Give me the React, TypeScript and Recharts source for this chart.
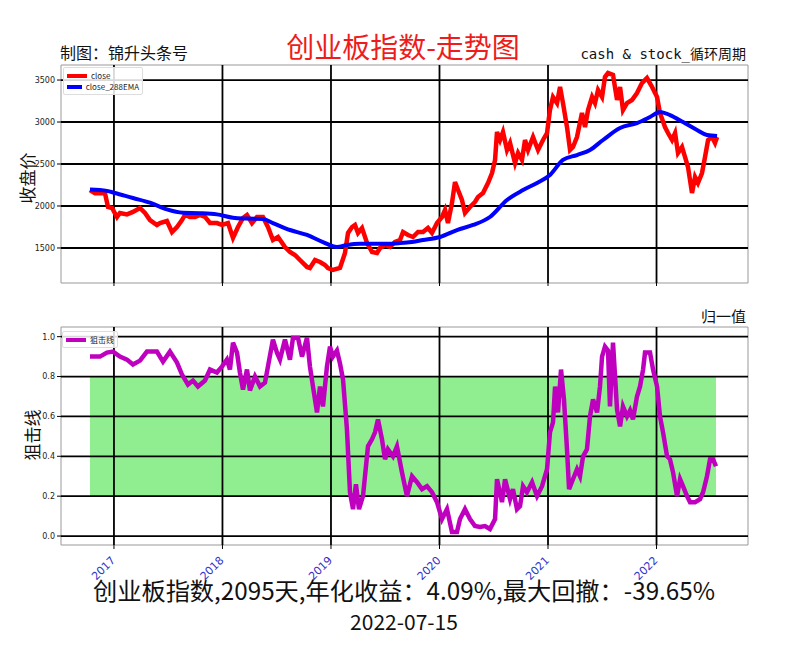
import React from 'react';
import { LineChart, Line, XAxis, YAxis, ReferenceLine, ReferenceArea } from 'recharts';

// ---------- data ----------
const indexName = '创业板指数';
const titleText = '创业板指数-走势图';
const makerText = '制图：锦升头条号';
const brandText = 'cash & stock_循环周期';
const normText = '归一值';
const priceLabel = '收盘价';
const sniperLabel = '狙击线';
const seriesNames = ['close', 'close_288EMA', '狙击线'];
const totalDays = 2095;
const annualReturn = '4.09%';
const maxDrawdown = '-39.65%';
const endDate = '2022-07-15';

const yearTicks = [2017, 2018, 2019, 2020, 2021, 2022];
const priceTicks = [1500, 2000, 2500, 3000, 3500];
const sniperTicks = [0, 0.2, 0.4, 0.6, 0.8, 1.0];
const timeDomain = [2016.512, 2022.843];
const priceDomain = [1083, 3679];
const sniperDomain = [-0.045, 1.0485];
const bandLow = 0.2;
const bandHigh = 0.8;

// [decimal year, close]
const closeSeries: [number, number][] = [
  [2016.779, 2190], [2016.825, 2151], [2016.917, 2155], [2016.945, 1988], [2016.982, 1976],
  [2017.028, 1869], [2017.055, 1917], [2017.120, 1900], [2017.175, 1929], [2017.240, 1976],
  [2017.286, 1917], [2017.332, 1833], [2017.396, 1774], [2017.424, 1797], [2017.488, 1821],
  [2017.535, 1690], [2017.581, 1750], [2017.627, 1833], [2017.654, 1893], [2017.700, 1869],
  [2017.747, 1869], [2017.793, 1893], [2017.839, 1870], [2017.885, 1797], [2017.949, 1797],
  [2017.995, 1774], [2018.051, 1797], [2018.097, 1620], [2018.143, 1750], [2018.189, 1857],
  [2018.226, 1893], [2018.272, 1797], [2018.318, 1869], [2018.373, 1869], [2018.419, 1750],
  [2018.465, 1595], [2018.512, 1631], [2018.576, 1512], [2018.622, 1452], [2018.668, 1417],
  [2018.714, 1357], [2018.779, 1274], [2018.806, 1262], [2018.853, 1357], [2018.899, 1333],
  [2018.945, 1298], [2018.972, 1262], [2019.018, 1238], [2019.083, 1262], [2019.129, 1440],
  [2019.157, 1679], [2019.194, 1750], [2019.221, 1774], [2019.249, 1679], [2019.286, 1738],
  [2019.332, 1560], [2019.378, 1452], [2019.424, 1440], [2019.452, 1500], [2019.498, 1536],
  [2019.544, 1512], [2019.590, 1571], [2019.636, 1595], [2019.664, 1690], [2019.710, 1655],
  [2019.756, 1631], [2019.802, 1690], [2019.848, 1690], [2019.894, 1738], [2019.931, 1679],
  [2019.977, 1797], [2020.023, 1869], [2020.051, 1952], [2020.078, 1797], [2020.115, 2036],
  [2020.143, 2286], [2020.171, 2190], [2020.207, 2071], [2020.235, 1917], [2020.281, 1988],
  [2020.327, 2048], [2020.355, 2107], [2020.401, 2155], [2020.447, 2274], [2020.484, 2393],
  [2020.512, 2548], [2020.530, 2881], [2020.558, 2786], [2020.585, 2881], [2020.622, 2667],
  [2020.650, 2750], [2020.696, 2512], [2020.724, 2631], [2020.760, 2548], [2020.788, 2786],
  [2020.816, 2667], [2020.862, 2821], [2020.908, 2667], [2020.954, 2786], [2020.991, 2869],
  [2021.018, 3143], [2021.046, 3298], [2021.083, 3226], [2021.111, 3417], [2021.138, 3226],
  [2021.175, 2940], [2021.203, 2667], [2021.230, 2702], [2021.267, 2821], [2021.313, 3107],
  [2021.341, 2940], [2021.369, 3143], [2021.406, 3298], [2021.433, 3226], [2021.461, 3381],
  [2021.498, 3298], [2021.525, 3536], [2021.553, 3583], [2021.599, 3560], [2021.636, 3262],
  [2021.664, 3417], [2021.691, 3143], [2021.728, 3226], [2021.774, 3262], [2021.820, 3345],
  [2021.866, 3464], [2021.912, 3524], [2021.959, 3417], [2022.005, 3298], [2022.032, 3107],
  [2022.078, 2940], [2022.106, 2869], [2022.143, 2786], [2022.171, 2869], [2022.198, 2631],
  [2022.235, 2702], [2022.263, 2583], [2022.290, 2464], [2022.327, 2155], [2022.355, 2345],
  [2022.382, 2274], [2022.419, 2393], [2022.447, 2583], [2022.475, 2786], [2022.512, 2821],
  [2022.539, 2750], [2022.558, 2821],
];

// [decimal year, 288-day EMA]
const emaSeries: [number, number][] = [
  [2016.779, 2195], [2016.935, 2180], [2017.009, 2155], [2017.175, 2095], [2017.332, 2040],
  [2017.488, 1960], [2017.636, 1920], [2017.793, 1915], [2017.949, 1900], [2018.097, 1860],
  [2018.226, 1850], [2018.373, 1845], [2018.465, 1797], [2018.622, 1714], [2018.779, 1655],
  [2018.926, 1571], [2019.055, 1512], [2019.147, 1536], [2019.267, 1550], [2019.387, 1550],
  [2019.516, 1550], [2019.636, 1558], [2019.700, 1565], [2019.848, 1595], [2020.005, 1631],
  [2020.161, 1714], [2020.309, 1774], [2020.465, 1869], [2020.622, 2071], [2020.770, 2190],
  [2020.899, 2274], [2021.018, 2369], [2021.138, 2548], [2021.267, 2607], [2021.387, 2667],
  [2021.507, 2786], [2021.664, 2929], [2021.820, 2988], [2021.940, 3060], [2022.032, 3120],
  [2022.124, 3083], [2022.244, 3000], [2022.373, 2905], [2022.465, 2845], [2022.558, 2833],
];

// [decimal year, normalised sniper line]
const sniperSeries: [number, number][] = [
  [2016.779, 0.90], [2016.871, 0.90], [2016.935, 0.92], [2016.991, 0.925], [2017.055, 0.90],
  [2017.120, 0.885], [2017.175, 0.86], [2017.240, 0.88], [2017.304, 0.925], [2017.396, 0.925],
  [2017.452, 0.875], [2017.516, 0.925], [2017.581, 0.87], [2017.627, 0.81], [2017.682, 0.76],
  [2017.728, 0.78], [2017.774, 0.75], [2017.839, 0.78], [2017.885, 0.835], [2017.949, 0.82],
  [2017.995, 0.85], [2018.041, 0.885], [2018.069, 0.835], [2018.097, 0.97], [2018.134, 0.92],
  [2018.161, 0.82], [2018.189, 0.735], [2018.226, 0.835], [2018.253, 0.73], [2018.300, 0.80],
  [2018.346, 0.75], [2018.392, 0.77], [2018.419, 0.85], [2018.465, 0.985], [2018.502, 0.92],
  [2018.530, 0.885], [2018.576, 0.985], [2018.622, 0.885], [2018.650, 0.995], [2018.696, 0.995],
  [2018.733, 0.90], [2018.779, 0.995], [2018.806, 0.85], [2018.834, 0.75], [2018.871, 0.62],
  [2018.899, 0.75], [2018.926, 0.65], [2018.963, 0.85], [2018.991, 0.95], [2019.018, 0.90],
  [2019.055, 0.93], [2019.083, 0.865], [2019.111, 0.785], [2019.147, 0.535], [2019.175, 0.22],
  [2019.203, 0.135], [2019.230, 0.26], [2019.258, 0.135], [2019.295, 0.20], [2019.341, 0.45],
  [2019.378, 0.485], [2019.406, 0.52], [2019.433, 0.585], [2019.470, 0.485], [2019.498, 0.385],
  [2019.525, 0.435], [2019.571, 0.40], [2019.608, 0.45], [2019.654, 0.32], [2019.700, 0.20],
  [2019.747, 0.30], [2019.793, 0.27], [2019.839, 0.235], [2019.885, 0.25], [2019.931, 0.22],
  [2019.977, 0.17], [2020.023, 0.085], [2020.069, 0.135], [2020.115, 0.02], [2020.161, 0.02],
  [2020.189, 0.085], [2020.235, 0.135], [2020.281, 0.085], [2020.327, 0.05], [2020.373, 0.045],
  [2020.419, 0.05], [2020.465, 0.035], [2020.512, 0.085], [2020.530, 0.285], [2020.576, 0.17],
  [2020.604, 0.285], [2020.650, 0.185], [2020.677, 0.235], [2020.714, 0.135], [2020.742, 0.15],
  [2020.770, 0.25], [2020.806, 0.22], [2020.853, 0.27], [2020.899, 0.20], [2020.945, 0.25],
  [2020.991, 0.335], [2021.018, 0.52], [2021.046, 0.57], [2021.065, 0.75], [2021.092, 0.62],
  [2021.120, 0.835], [2021.147, 0.685], [2021.175, 0.435], [2021.194, 0.235], [2021.230, 0.285],
  [2021.267, 0.335], [2021.295, 0.30], [2021.323, 0.40], [2021.359, 0.435], [2021.387, 0.60],
  [2021.415, 0.685], [2021.452, 0.62], [2021.479, 0.75], [2021.498, 0.90], [2021.525, 0.95],
  [2021.553, 0.93], [2021.571, 0.65], [2021.599, 0.97], [2021.636, 0.635], [2021.664, 0.55],
  [2021.691, 0.65], [2021.728, 0.60], [2021.756, 0.63], [2021.783, 0.585], [2021.820, 0.70],
  [2021.848, 0.75], [2021.876, 0.835], [2021.894, 0.92], [2021.940, 0.92], [2021.968, 0.835],
  [2022.005, 0.75], [2022.032, 0.60], [2022.060, 0.52], [2022.097, 0.40], [2022.124, 0.385],
  [2022.152, 0.32], [2022.189, 0.20], [2022.217, 0.285], [2022.244, 0.25], [2022.281, 0.20],
  [2022.309, 0.17], [2022.355, 0.17], [2022.401, 0.185], [2022.429, 0.22], [2022.465, 0.30],
  [2022.493, 0.385], [2022.521, 0.385], [2022.548, 0.35],
];

// ---------- derived tables ----------
const closeData = closeSeries.map(([t, v]) => ({ t, v }));
const emaData = emaSeries.map(([t, v]) => ({ t, v }));
const sniperData = sniperSeries.map(([t, v]) => ({ t, v }));
const bandStart = sniperSeries[0][0];
const bandEnd = sniperSeries[sniperSeries.length - 1][0];

const CJK = "'Noto Sans CJK SC', 'Noto Sans', sans-serif";
const TICK_FONT = "'DejaVu Sans', sans-serif";
const GRID = '#000';
const GRID_W = 1.8;

const YearTick = (props: any) => {
  const { x, y, payload } = props;
  const ax = x + 2;
  const ay = y + 10;
  return (
    <text
      x={ax}
      y={ay}
      textAnchor="end"
      transform={`rotate(-45, ${ax}, ${ay})`}
      fontSize={11}
      fontFamily={TICK_FONT}
      fill="#3434c8"
    >
      {payload.value}
    </text>
  );
};

const NoTick = () => <g />;

const LegendBox = ({ items, left, top, width }: { items: { name: string; color: string }[]; left: number; top: number; width: number }) => (
  <div
    style={{
      position: 'absolute',
      left,
      top,
      width,
      background: 'rgba(255,255,255,0.85)',
      border: '1px solid #ddd',
      borderRadius: 2,
      padding: '2px 3px',
      boxSizing: 'border-box',
    }}
  >
    {items.map((it) => (
      <div key={it.name} style={{ display: 'flex', alignItems: 'center', height: 11 }}>
        <div style={{ width: 20, height: 4, background: it.color, marginRight: 4 }} />
        <span style={{ fontSize: 8, fontFamily: CJK, color: '#222', lineHeight: '10px' }}>{it.name}</span>
      </div>
    ))}
  </div>
);

export default function App() {
  return (
    <div style={{ position: 'absolute', left: 0, top: 0, width: 800, height: 650, background: '#fff', overflow: 'hidden' }}>
      {/* top chart: close & EMA */}
      <div style={{ position: 'absolute', left: 0, top: 0 }}>
        <LineChart width={800} height={290} margin={{ top: 65, right: 52, left: 0, bottom: 2 }}>
          <XAxis
            dataKey="t"
            type="number"
            domain={timeDomain}
            ticks={yearTicks}
            allowDataOverflow
            height={5}
            tick={NoTick}
            tickSize={3}
            tickLine={{ stroke: '#000' }}
            axisLine={false}
          />
          <YAxis
            type="number"
            domain={priceDomain}
            ticks={priceTicks}
            allowDataOverflow
            width={61}
            tickSize={4}
            tickMargin={2}
            axisLine={false}
            tickLine={{ stroke: '#000' }}
            tick={{ fontSize: 8, fill: '#222', fontFamily: TICK_FONT }}
          />
          {priceTicks.map((v) => (
            <ReferenceLine key={'py' + v} y={v} stroke={GRID} strokeWidth={GRID_W} />
          ))}
          {yearTicks.map((v) => (
            <ReferenceLine key={'px' + v} x={v} stroke={GRID} strokeWidth={GRID_W} />
          ))}
          <ReferenceArea
            x1={timeDomain[0]}
            x2={timeDomain[1]}
            y1={priceDomain[0]}
            y2={priceDomain[1]}
            fill="none"
            stroke="#999"
            strokeWidth={1}
            fillOpacity={0}
          />
          <Line data={closeData} dataKey="v" name={seriesNames[0]} type="linear" stroke="#ff0000" strokeWidth={4.5} dot={false} isAnimationActive={false} />
          <Line data={emaData} dataKey="v" name={seriesNames[1]} type="monotone" stroke="#0000ff" strokeWidth={4} dot={false} isAnimationActive={false} />
        </LineChart>
      </div>

      {/* bottom chart: sniper line */}
      <div style={{ position: 'absolute', left: 0, top: 300 }}>
        <LineChart width={800} height={300} margin={{ top: 27, right: 52, left: 0, bottom: 15 }}>
          <XAxis
            dataKey="t"
            type="number"
            domain={timeDomain}
            ticks={yearTicks}
            allowDataOverflow
            height={40}
            tick={YearTick}
            tickSize={4}
            tickLine={{ stroke: '#000' }}
            axisLine={false}
          />
          <YAxis
            type="number"
            domain={sniperDomain}
            ticks={sniperTicks}
            allowDataOverflow
            width={61}
            tickSize={4}
            tickMargin={2}
            axisLine={false}
            tickLine={{ stroke: '#000' }}
            tickFormatter={(v: number) => v.toFixed(1)}
            tick={{ fontSize: 8, fill: '#222', fontFamily: TICK_FONT }}
          />
          <ReferenceArea x1={bandStart} x2={bandEnd} y1={bandLow} y2={bandHigh} fill="#90ee90" fillOpacity={1} stroke="none" />
          {sniperTicks.map((v) => (
            <ReferenceLine key={'sy' + v} y={v} stroke={GRID} strokeWidth={GRID_W} />
          ))}
          {yearTicks.map((v) => (
            <ReferenceLine key={'sx' + v} x={v} stroke={GRID} strokeWidth={GRID_W} />
          ))}
          <ReferenceArea
            x1={timeDomain[0]}
            x2={timeDomain[1]}
            y1={sniperDomain[0]}
            y2={sniperDomain[1]}
            fill="none"
            stroke="#999"
            strokeWidth={1}
            fillOpacity={0}
          />
          <Line data={sniperData} dataKey="v" name={seriesNames[2]} type="linear" stroke="#bf00bf" strokeWidth={4.5} dot={false} isAnimationActive={false} />
        </LineChart>
      </div>

      <LegendBox
        left={63}
        top={67}
        width={80}
        items={[
          { name: seriesNames[0], color: '#ff0000' },
          { name: seriesNames[1], color: '#0000ff' },
        ]}
      />
      <LegendBox left={62} top={331} width={56} items={[{ name: seriesNames[2], color: '#bf00bf' }]} />

      <svg width={800} height={650} style={{ position: 'absolute', left: 0, top: 0, pointerEvents: 'none' }}>
        <text x={60} y={59} fontSize={16} fontFamily={CJK} fill="#111">{makerText}</text>
        <text x={403} y={58} fontSize={28} fontFamily={CJK} fill="#ee1c1c" textAnchor="middle">{titleText}</text>
        <text x={746} y={59} fontSize={14} fontFamily={"'DejaVu Sans Mono', 'Noto Sans CJK SC', monospace"} fill="#111" textAnchor="end">{brandText}</text>
        <text x={746} y={322} fontSize={15} fontFamily={CJK} fill="#111" textAnchor="end">{normText}</text>
        <text x={26} y={178} fontSize={17} fontFamily={CJK} fill="#111" textAnchor="middle" dominantBaseline="central" transform="rotate(-90, 26, 178)">{priceLabel}</text>
        <text x={31} y={435} fontSize={17} fontFamily={CJK} fill="#111" textAnchor="middle" dominantBaseline="central" transform="rotate(-90, 31, 435)">{sniperLabel}</text>
        <text x={404} y={600} fontSize={24} fontFamily={CJK} fill="#111" textAnchor="middle" textLength={622} lengthAdjust="spacingAndGlyphs">
          {`${indexName},${totalDays}天,年化收益：${annualReturn},最大回撤：${maxDrawdown}`}
        </text>
        <text x={404} y={630} fontSize={21} fontFamily={CJK} fill="#111" textAnchor="middle">{endDate}</text>
      </svg>
    </div>
  );
}
